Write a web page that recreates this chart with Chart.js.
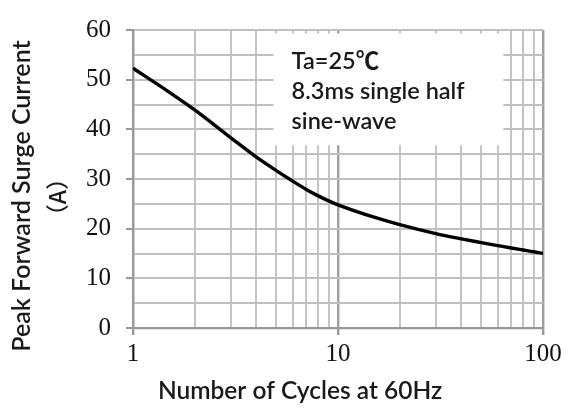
<!DOCTYPE html>
<html><head><meta charset="utf-8">
<script src="https://cdn.jsdelivr.net/npm/chart.js@4.4.1/dist/chart.umd.min.js"></script>
<style>html,body{margin:0;padding:0;background:#fff;} #wrap{width:576px;height:409px;}</style>
</head><body><div id="wrap"><canvas id="c" width="576" height="409"></canvas></div>
<script>
const cycles = [1,1.5,2,3,4,5,6,7,8,9,10,15,20,30,40,50,60,70,80,90,100];
const surgeCurrent = [52.3,47.5,43.9,38.3,34.4,31.7,29.6,27.9,26.6,25.6,24.8,22.3,20.8,19.0,17.95,17.2,16.6,16.1,15.7,15.35,15.0];
const xGridValues = [1,2,3,4,5,6,7,8,9,10,20,30,40,50,60,70,80,90,100];
const xTickLabels = [1,10,100];
const yTickLabels = [0,10,20,30,40,50,60];
const noteLines = ['Ta=25℃','8.3ms single half','sine-wave'];
const xTitle = 'Number of Cycles at 60Hz';
const yTitleLines = ['Peak Forward Surge Current','（A）'];

const SANS = 'Lato, "Noto Sans CJK SC", sans-serif';
const W = '600 ';
function fitFont(ctx, text, target, maxSize){
  let s = maxSize;
  while (s > 8) {
    ctx.font = W + s + 'px ' + SANS;
    if (ctx.measureText(text).width <= target) break;
    s -= 0.5;
  }
  return s;
}

const notePlugin = {
  id:'note',
  beforeDatasetsDraw(chart){
    const {ctx, scales:{x,y}} = chart;
    const l = x.getPixelForValue(4.85), r = x.getPixelForValue(64);
    const t = y.getPixelForValue(59.3), b = y.getPixelForValue(36.8);
    ctx.save();
    ctx.fillStyle = '#fff';
    ctx.fillRect(l, t, r-l, b-t);
    const s = fitFont(ctx, noteLines[1], 174, 26);
    ctx.font = W + s + 'px ' + SANS;
    ctx.fillStyle = '#1a1a1a';
    ctx.textBaseline = 'alphabetic';
    ctx.textAlign = 'left';
    noteLines.forEach((line,i)=> ctx.fillText(line, l + 18, t + 36 + i*30));
    ctx.restore();
  },
  afterDraw(chart){
    const {ctx} = chart;
    ctx.save();
    ctx.fillStyle = '#1a1a1a';
    let s = fitFont(ctx, xTitle, 290, 28);
    ctx.font = W + s + 'px ' + SANS;
    ctx.textAlign = 'center';
    ctx.textBaseline = 'alphabetic';
    ctx.fillText(xTitle, 300, 399);
    s = fitFont(ctx, yTitleLines[0], 315, 28);
    ctx.font = W + s + 'px ' + SANS;
    ctx.translate(22, 196);
    ctx.rotate(-Math.PI/2);
    ctx.textBaseline = 'middle';
    ctx.fillText(yTitleLines[0], 0, 0);
    ctx.restore();
    ctx.save();
    ctx.fillStyle = '#1a1a1a';
    ctx.font = '500 23px "Noto Sans CJK SC", sans-serif';
    ctx.translate(57, 197);
    ctx.rotate(-Math.PI/2);
    ctx.textAlign = 'center';
    ctx.textBaseline = 'middle';
    ctx.fillText(yTitleLines[1], 0, 0);
    ctx.restore();
  }
};

const isMajorX = v => xTickLabels.includes(v);
const isMajorY = v => yTickLabels.includes(v);
const tickFont = {family:'"Liberation Serif", serif', size:25};

new Chart(document.getElementById('c'), {
  type:'line',
  data:{datasets:[{
    data: cycles.map((c,i)=>({x:c, y:surgeCurrent[i]})),
    borderColor:'#000', borderWidth:3.4, pointRadius:0,
    cubicInterpolationMode:'monotone', fill:false
  }]},
  options:{
    responsive:false, animation:false,
    layout:{padding:{top:18, right:33, left:0, bottom:0}},
    plugins:{legend:{display:false}, tooltip:{enabled:false}},
    scales:{
      x:{
        type:'logarithmic', min:1, max:100,
        afterFit(s){ s.height = 81; },
        afterBuildTicks(s){ s.ticks = xGridValues.map(v=>({value:v})); },
        ticks:{autoSkip:false, maxRotation:0, padding:4, color:'#111', font:tickFont,
          callback:(v)=> isMajorX(v) ? String(v) : ''},
        grid:{
          lineWidth: c => isMajorX(c.tick && c.tick.value) ? 2.4 : 2,
          tickLength:7,
          color: c => isMajorX(c.tick && c.tick.value) ? '#a0a0a0' : '#c4c4c4',
          tickColor: c => isMajorX(c.tick && c.tick.value) ? '#999' : 'rgba(0,0,0,0)'
        },
        border:{color:'#999', width:2.2}
      },
      y:{
        min:0, max:60,
        afterFit(s){ s.width = 133; },
        ticks:{stepSize:5, autoSkip:false, padding:15, color:'#111', font:tickFont,
          callback:(v)=> isMajorY(v) ? String(v) : ''},
        grid:{
          lineWidth:2, tickLength:7,
          color:'#c0c0c0',
          tickColor: c => isMajorY(c.tick && c.tick.value) ? '#999' : 'rgba(0,0,0,0)'
        },
        border:{color:'#999', width:2.2}
      }
    }
  },
  plugins:[notePlugin]
});
</script></body></html>
